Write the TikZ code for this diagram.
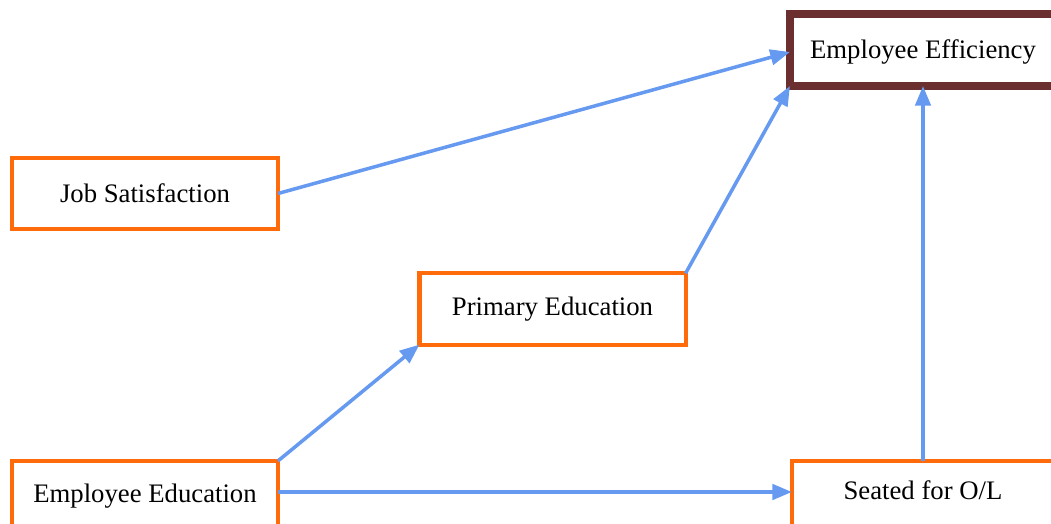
\documentclass[tikz,border=0pt]{standalone}
\usepackage{fontspec}
\setmainfont{Liberation Serif}
\usetikzlibrary{arrows.meta,positioning}
\definecolor{boxorange}{HTML}{FF6A0A}
\definecolor{boxbrown}{HTML}{6B2F2F}
\definecolor{linkblue}{HTML}{6699F0}

\begin{document}
\begin{tikzpicture}[x=0.025cm,y=-0.025cm,
    factor/.style={draw=boxorange,line width=2.9pt,fill=white,inner sep=0pt,outer sep=0pt,
      minimum width=6.65cm,minimum height=1.78cm,font=\fontsize{19}{22}\selectfont},
    outcome/.style={factor,draw=boxbrown,line width=5.8pt,minimum height=1.8cm},
    link/.style={linkblue,line width=2.5pt,-{Triangle[length=14pt,width=11pt]}}]
  \useasboundingbox (0,0) rectangle (1051,524);

  % Outcome
  \node[outcome,text height=16pt,text depth=4pt] (eff) at (923,50) {Employee Efficiency};

  % Factors
  \node[factor] (job) at (145,193.5) {Job Satisfaction};
  \node[factor] (prim) at (552.5,309) {Primary Education};
  \node[factor] (edu) at (145,496.5) {Employee Education};
  \node[factor,minimum width=6.55cm,text height=13pt,text depth=9pt] (olvl) at (923,496.5) {Seated for O/L};

  % Links
  \draw[link] (job.east) -- (eff.west |- 0,52);
  \draw[link] (prim.north east) -- (eff.south west);
  \draw[link] (edu.north east) -- (prim.south west);
  \draw[link] (edu.east |- 0,492) -- (olvl.west |- 0,492);
  \draw[link] (olvl.north) -- (eff.south);
\end{tikzpicture}
\end{document}
